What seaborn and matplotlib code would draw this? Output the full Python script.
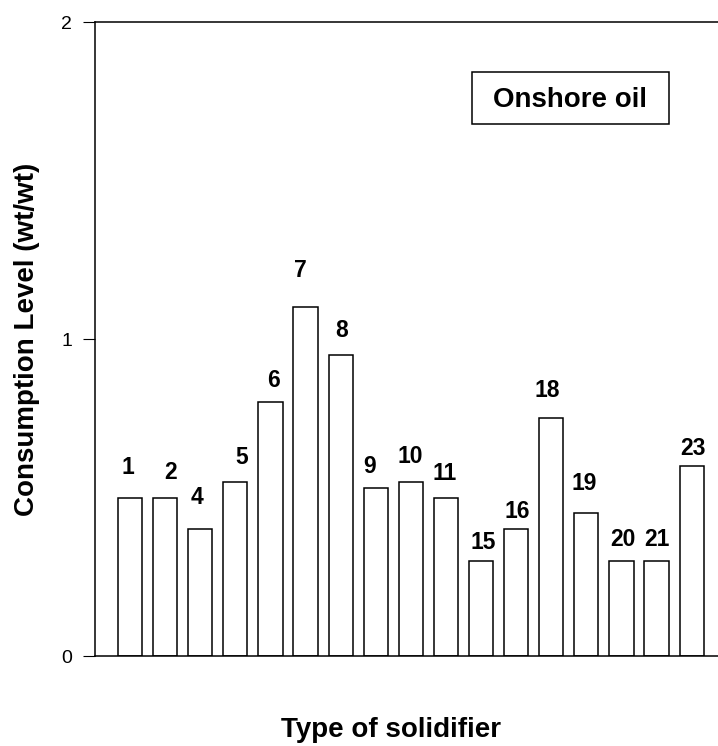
import matplotlib
matplotlib.use("Agg")
import matplotlib.pyplot as plt
from matplotlib.patches import Rectangle
import seaborn as sns
import pandas as pd

# Solidifier numbers and their consumption level (wt/wt) for onshore oil
solidifiers = ["1", "2", "4", "5", "6", "7", "8", "9", "10", "11",
               "15", "16", "18", "19", "20", "21", "23"]
consumption = [0.50, 0.50, 0.40, 0.55, 0.80, 1.10, 0.95, 0.53, 0.55, 0.50,
               0.30, 0.40, 0.75, 0.45, 0.30, 0.30, 0.60]

# Label nudges (pixels) so the numbers sit above each bar
label_dx = [-2, 5, -3, 6, 3, -5, 1, -6, -1, -1, 2, 1, -4, -2, 1, 0, 1]
label_dy = [30, 25, 32, 24, 22, 37, 24, 22, 25, 24, 18, 18, 28, 30, 21, 21, 17]

df = pd.DataFrame({"solidifier": solidifiers, "consumption": consumption})

sns.set_style("white")
plt.rcParams["font.family"] = ["Liberation Sans", "DejaVu Sans"]
plt.rcParams["text.color"] = "black"
plt.rcParams["axes.labelcolor"] = "black"
plt.rcParams["ytick.color"] = "black"
plt.rcParams["xtick.color"] = "black"

fig = plt.figure(figsize=(7.18, 7.46), dpi=100)
ax = fig.add_axes([0.1323, 0.1206, 0.8677, 0.8499])

sns.barplot(data=df, x="solidifier", y="consumption", order=solidifiers,
            color="white", edgecolor="black", linewidth=1.1, width=0.69,
            saturation=1, ax=ax)

for i, (lab, v) in enumerate(zip(solidifiers, consumption)):
    ax.annotate(lab, xy=(i, v), xytext=(label_dx[i], label_dy[i]),
                textcoords="offset pixels", ha="center", va="center",
                fontsize=16.5, fontweight="bold", color="black")

ax.set_xlim(-1.0, 16.75)
ax.set_ylim(0, 2)
ax.set_yticks([0, 1, 2])
ax.set_yticklabels(["0", "1", "2"], fontsize=14)
ax.set_xticks([])
ax.tick_params(axis="y", direction="out", length=8.6, width=0.8, pad=8,
               left=True, color="black", labelcolor="black")

for side in ["left", "bottom", "top"]:
    ax.spines[side].set_visible(True)
    ax.spines[side].set_color("black")
    ax.spines[side].set_linewidth(1.1)
ax.spines["right"].set_visible(False)

ax.set_xlabel("Type of solidifier", fontsize=20, fontweight="bold", color="black")
ax.xaxis.label.set_va("baseline")
ax.xaxis.set_label_coords(0.475, -0.1278)

ax.set_ylabel("Consumption Level (wt/wt)", fontsize=20, fontweight="bold", color="black")
ax.yaxis.label.set_va("center")
ax.yaxis.set_label_coords(-0.109, 0.5)

# Caption box in the upper right
ax.add_patch(Rectangle((0.605, 0.839), 0.316, 0.082, transform=ax.transAxes,
                       facecolor="white", edgecolor="black", linewidth=1.1,
                       zorder=3))
ax.text(0.7625, 0.866, "Onshore oil", transform=ax.transAxes, ha="center",
        va="baseline", fontsize=20, fontweight="bold", color="black", zorder=4)

fig.savefig("out.png", dpi=100)
